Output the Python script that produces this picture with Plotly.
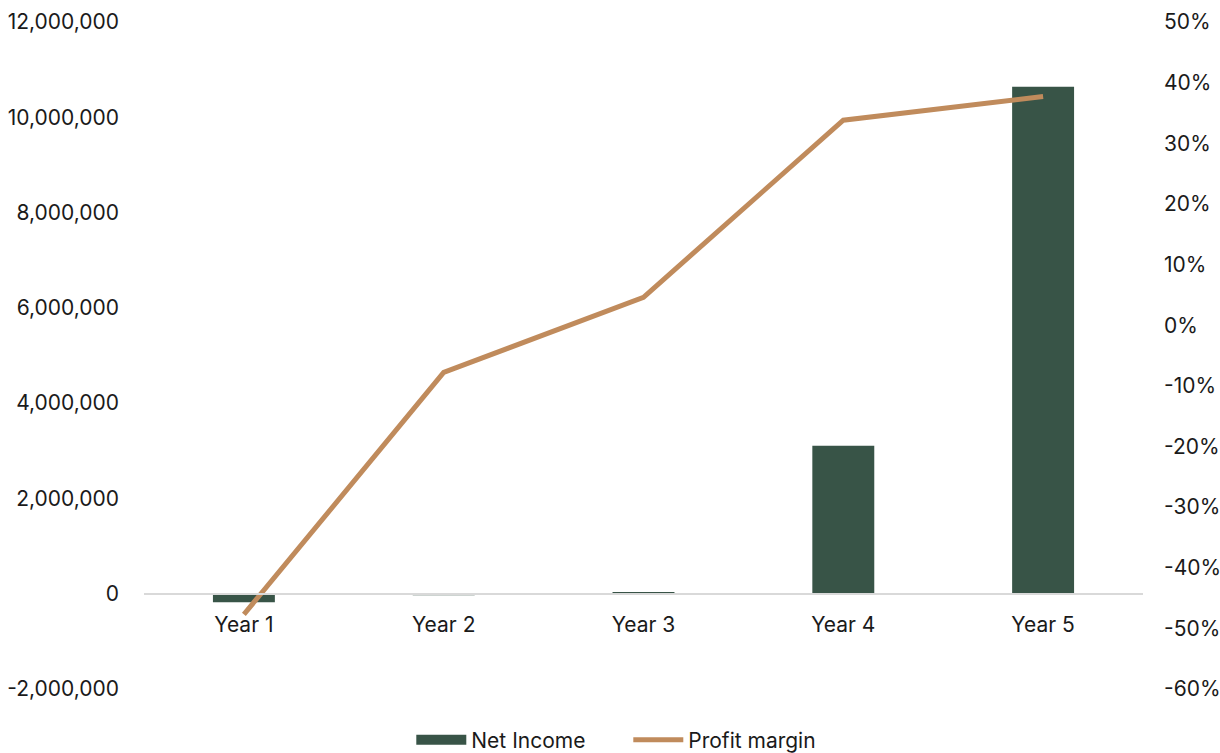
import plotly.graph_objects as go

# Five-year projection: net income (bars, left axis) and profit margin (line, right axis)
years = ["Year 1", "Year 2", "Year 3", "Year 4", "Year 5"]
net_income = [-178000, -30000, 30000, 3105000, 10640000]
profit_margin = [-0.477, -0.078, 0.046, 0.338, 0.377]

left_ticks = [-2000000, 0, 2000000, 4000000, 6000000, 8000000, 10000000, 12000000]
right_ticks = [-0.6, -0.5, -0.4, -0.3, -0.2, -0.1, 0.0, 0.1, 0.2, 0.3, 0.4, 0.5]

BAR_COLOR = "#385447"
LINE_COLOR = "#C08B5C"
FONT = "Inter, Noto Sans, sans-serif"

left_text = [f"{v:,}" for v in left_ticks]
right_text = [f"{round(v * 100)}%" for v in right_ticks]

fig = go.Figure()
fig.add_trace(go.Bar(
    x=years, y=net_income, name="Net Income",
    marker=dict(color=BAR_COLOR, line=dict(width=0)),
    yaxis="y", showlegend=False,
))
fig.add_trace(go.Scatter(
    x=years, y=profit_margin, name="Profit margin",
    mode="lines", line=dict(color=LINE_COLOR, width=5),
    yaxis="y2", showlegend=False,
))
# Legend entries: wide block swatch for bars, stroke for the line
fig.add_trace(go.Scatter(
    x=[None], y=[None], name="Net Income", mode="lines",
    line=dict(color=BAR_COLOR, width=15), yaxis="y",
))
fig.add_trace(go.Scatter(
    x=[None], y=[None], name="Profit margin", mode="lines",
    line=dict(color=LINE_COLOR, width=5), yaxis="y2",
))

zero_pos = (0 - left_ticks[0]) / (left_ticks[-1] - left_ticks[0])

fig.update_layout(
    width=1220, height=753,
    margin=dict(l=144, r=77, t=22, b=64, autoexpand=False),
    paper_bgcolor="white", plot_bgcolor="white",
    font=dict(family=FONT, size=21, color="#1a1a1a"),
    bargap=0.69,
    showlegend=True,
    legend=dict(orientation="h", xref="container", x=0.515, xanchor="center",
                y=-0.046, yanchor="top",
                font=dict(size=21), itemwidth=50, traceorder="normal",
                entrywidth=152, tracegroupgap=0),
    xaxis=dict(
        anchor="free", position=zero_pos,
        showline=True, linecolor="#d9d9d9", linewidth=2,
        showgrid=False, ticks="", ticklabelstandoff=12,
    ),
    yaxis=dict(
        range=[left_ticks[0], left_ticks[-1]],
        tickvals=left_ticks, ticktext=left_text,
        showgrid=False, zeroline=False, showline=False,
        ticklabelstandoff=24,
    ),
    yaxis2=dict(
        range=[right_ticks[0], right_ticks[-1]],
        tickvals=right_ticks, ticktext=right_text,
        overlaying="y", side="right",
        showgrid=False, zeroline=False, showline=False,
        ticklabelstandoff=20,
    ),
)

fig.write_html("out.html")
